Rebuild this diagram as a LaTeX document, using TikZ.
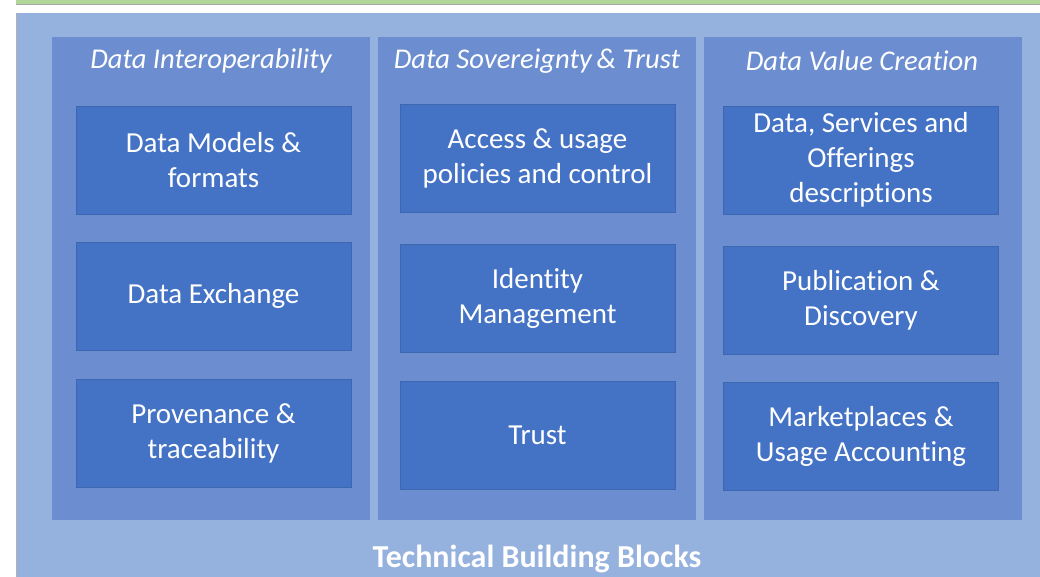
\documentclass[tikz,border=0pt]{standalone}
\usepackage{fontspec}
\setmainfont{Carlito}[Ligatures=CommonOff]
\definecolor{outerblue}{HTML}{95B1DD}
\definecolor{colblue}{HTML}{6C8ED0}
\definecolor{blockblue}{HTML}{4472C4}
\definecolor{stripgreen}{HTML}{B1D69A}
\begin{document}
\begin{tikzpicture}[
        x=1pt, y=-1pt,
        column/.style={fill=colblue, minimum width=318pt, minimum height=483pt, inner sep=0pt},
        block/.style={fill=blockblue, draw=blockblue!90!black, line width=0.4pt, minimum width=275pt, minimum height=108pt, inner sep=0pt, text=white, font=\fontsize{29}{35}\selectfont, align=center},
        heading/.style={text=white, font=\fontsize{28.6}{34}\selectfont\itshape, inner sep=0pt}
    ]
        \useasboundingbox (0,0) rectangle (1040,577);
        \fill[stripgreen] (16,0) rectangle (1040,4);
        \draw[gray!70, line width=1pt] (16,4.5) -- (1040,4.5);
        \fill[outerblue] (16,13) rectangle (1040,577);
        \draw[gray!60, line width=1pt] (16.5,13) -- (16.5,577);

        \node (interop) at (211,278.5) [column] {};
        \node (sovereignty) at (537,278.5) [column] {};
        \node (value) at (862.5,278.5) [column] {};

        \node (interoptitle) at (211,61) [heading] {Data Interoperability};
        \node (sovereigntytitle) at (537,61) [heading] {Data Sovereignty\,\& Trust};
        \node (valuetitle) at (862,61) [heading] {Data Value Creation};

        \node (models) at (213.5,160) [block] {Data Models \&\\formats};
        \node (exchange) at (213.5,296) [block] {Data Exchange};
        \node (provenance) at (213.5,433) [block] {Provenance \&\\traceability};

        \node (policies) at (537.5,158.5) [block] {Access \& usage\\policies and control};
        \node (identity) at (537.5,298.5) [block] {Identity\\Management};
        \node (trust) at (537.5,435) [block] {Trust};

        \node (offerings) at (861,160) [block] {Data, Services and\\Offerings\\descriptions};
        \node (publication) at (861,300) [block] {Publication \&\\Discovery};
        \node (marketplaces) at (861,436) [block] {Marketplaces \&\\Usage Accounting};

        \node (tbb) at (537,559) [text=white, font=\fontsize{32}{38}\selectfont\bfseries, inner sep=0pt] {Technical Building Blocks};
    \end{tikzpicture}
\end{document}
